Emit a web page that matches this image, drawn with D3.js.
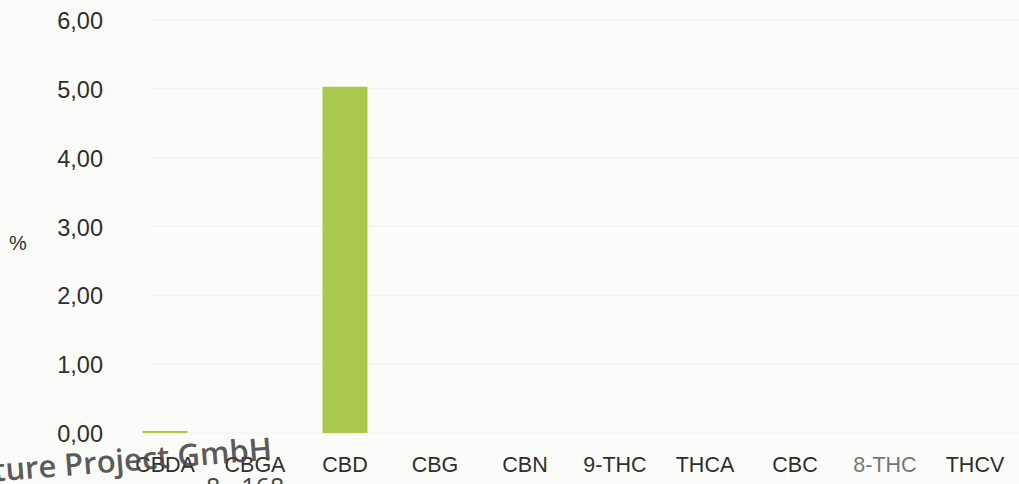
<!DOCTYPE html>
<html>
<head>
<meta charset="utf-8">
<script src="https://cdn.jsdelivr.net/npm/d3@7"></script>
<style>
  body { margin: 0; background: #fbfbfa; }
  svg { display: block; }
</style>
</head>
<body>
<div id="chart"></div>
<script>
// data
let categories = ["CBDA", "CBGA", "CBD", "CBG", "CBN", "9-THC", "THCA", "CBC", "8-THC", "THCV"];
let values = [0.03, 0, 5.03, 0, 0, 0, 0, 0, 0, 0];
let yTicks = [0, 1, 2, 3, 4, 5, 6];

let w = 1019;
let h = 484;
let padLeft = 120, padRight = 1020, padTop = 20, padBottom = 433;

let svg = d3.select("#chart")
    .append("svg")
    .attr("width", w)
    .attr("height", h)
    .style("font-family", "'Liberation Sans', Arial, sans-serif");

let xScale = d3.scaleBand()
    .domain(categories)
    .range([padLeft, padRight])
    .paddingInner(0.5)
    .paddingOuter(0.25);

let yScale = d3.scaleLinear()
    .domain([0, 6])
    .range([padBottom, padTop]);

// faint gridlines
svg.append("g")
    .selectAll("line")
    .data(yTicks)
    .enter().append("line")
    .attr("x1", 150)
    .attr("x2", w)
    .attr("y1", function (d) { return yScale(d); })
    .attr("y2", function (d) { return yScale(d); })
    .attr("stroke", "#f1f1f0")
    .attr("stroke-width", 1);

// y axis labels (comma decimals)
let yAxis = d3.axisLeft(yScale)
    .tickValues(yTicks)
    .tickSize(0)
    .tickPadding(0)
    .tickFormat(function (d) { return d3.format(".2f")(d).replace(".", ","); });
let yAxisGroup = svg.append("g")
    .attr("transform", "translate(103,1)")
    .call(yAxis);
yAxisGroup.select(".domain").remove();
yAxisGroup.selectAll("text")
    .attr("font-size", 23.5)
    .attr("fill", "#2e2e2e")
    .style("font-family", "'Liberation Sans', Arial, sans-serif");

svg.append("text")
    .attr("x", 18)
    .attr("y", 250)
    .attr("font-size", 20)
    .attr("fill", "#2e2e2e")
    .attr("text-anchor", "middle")
    .text("%");

// bars
svg.append("g")
    .selectAll("rect")
    .data(categories.map(function (c, i) { return { key: c, value: values[i] }; }))
    .enter().append("rect")
    .attr("x", function (d) { return xScale(d.key); })
    .attr("y", function (d) { return yScale(d.value); })
    .attr("width", xScale.bandwidth())
    .attr("height", function (d) { return padBottom - yScale(d.value); })
    .attr("fill", "#abc84e");

// x axis labels
let xAxis = d3.axisBottom(xScale).tickSize(0).tickPadding(0);
let xAxisGroup = svg.append("g")
    .attr("transform", "translate(0,457)")
    .call(xAxis);
xAxisGroup.select(".domain").remove();
xAxisGroup.selectAll("text")
    .attr("font-size", 21.5)
    .attr("dy", "0.71em")
    .attr("fill", function (d) { return d == "8-THC" ? "#777" : "#2e2e2e"; })
    .style("font-family", "'Liberation Sans', Arial, sans-serif");

// stamp fragments from the scan
svg.append("text")
    .attr("x", -6)
    .attr("y", 481)
    .attr("transform", "rotate(-4.5,0,481)")
    .attr("font-size", 31)
    .attr("font-weight", 600)
    .attr("fill", "#454545")
    .attr("fill-opacity", 0.9)
    .style("font-family", "'Open Sans', sans-serif")
    .text("ture Project GmbH");
svg.append("text")
    .attr("x", 206)
    .attr("y", 496)
    .attr("font-size", 25)
    .attr("fill", "#454545")
    .style("font-family", "'Open Sans', sans-serif")
    .text("8 - 168");
</script>
</body>
</html>
